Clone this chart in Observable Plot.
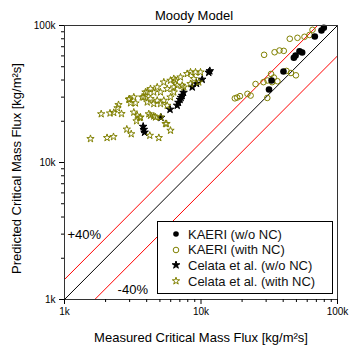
<!DOCTYPE html>
<html><head><meta charset="utf-8">
<script src="https://cdn.jsdelivr.net/npm/d3@7"></script>
<script src="https://cdn.jsdelivr.net/npm/@observablehq/plot@0.6"></script>
<style>
body{margin:0;background:#fff;font-family:"Liberation Sans",Arial,sans-serif;}
#wrap{position:relative;width:350px;height:352px;}
#legend{position:absolute;left:157px;top:221px;width:174px;height:71px;border:1px solid #000;background:#fff;font-size:13px;color:#111;}
.row{position:absolute;left:0;height:16px;display:flex;align-items:center;white-space:nowrap;}
.row svg{margin-left:12px;margin-right:6px;}
</style></head><body><div id="wrap"></div>
<script>
// Data (measured, predicted) in kg/m2s
const kaeriWo = [[79400,96200],[76300,91900],[68200,83200],[52700,64900],[55100,63500],[49300,60400],[47900,58100],[40200,46200],[32900,39700],[31500,34100]];
const kaeriWith = [[44700,80000],[50900,81300],[57300,82700],[62400,85300],[65600,93000],[29000,61100],[34600,63800],[37600,65700],[40400,65300],[42300,46600],[45600,45000],[49600,43300],[32600,44300],[34200,41700],[30700,39700],[36300,39200],[28700,38600],[25100,37400],[21900,31700],[23100,30800],[19300,30500],[18400,29800],[17700,29400],[30600,29600],[33200,38600]];
const celataWo = [[3770,18300],[3860,16600],[3810,17400],[5090,21300],[5930,24400],[6690,26100],[6840,27400],[7020,28800],[7150,29800],[7280,30800],[7450,32400],[8620,35500],[9270,37700],[10200,40400],[11600,46600],[11400,45400]];
const celataWith = [[1550,14900],[2050,15150],[2285,15400],[1857,22600],[2155,22900],[2296,23100],[2616,22680],[2487,26370],[2445,25000],[2860,17470],[3081,16150],[3219,23240],[3410,22030],[3370,20090],[3562,21190],[2993,29080],[3045,27180],[3219,29980],[3708,29980],[3919,32600],[4146,22600],[4510,21780],[4217,15740],[4909,15150],[5590,19170],[5978,17130],[5050,21410],[3604,21410],[4642,21410],[9916,45620],[9114,45620],[8377,45620],[7925,44420],[7075,41950],[6320,40830],[5978,39680],[5339,38550],[4777,35450],[4266,34510],[4036,32600],[4510,32600],[5050,32600],[6320,35450],[7280,36480],[8377,37530],[9640,38550],[5653,34510],[3810,29980],[4266,29170],[4777,28360],[5339,28360],[5978,29980],[6320,32600],[4036,27550],[4510,26820],[5050,26820],[5653,26060],[4266,22030],[5495,19170],[2958,28840],[3313,27100],[6692,36480],[7480,35450],[6505,39680],[8855,40830]];

const seriesNames = ["KAERI (w/o NC)","KAERI (with NC)","Celata et al. (w/o NC)","Celata et al. (with NC)"];
const majorTicks = [1000,10000,100000];
const minorTicks = [2000,3000,4000,5000,6000,7000,8000,9000,20000,30000,40000,50000,60000,70000,80000,90000];
const ratioLines = [1, 1.4, 0.6];
const ratioColors = ["#000","#ff0000","#ff0000"];
const ratioLabels = [{x:1050,y:2980,text:"+40%"},{x:2450,y:1180,text:"-40%"}];
const titleText = "Moody Model";
const xTitle = "Measured Critical Mass Flux [kg/m²s]";
const yTitle = "Predicted Critical Mass Flux [kg/m²s]";

const olive = "#808000";
const domain = [1000,100000];
const lineData = ratioLines.flatMap((k,i)=>domain.map(x=>({x, y:k*x, k:String(k), c:ratioColors[i]})));
const fmt = d => d/1000 + "k";
const X = d => d[0], Y = d => d[1];

const chart = Plot.plot({
  width:350, height:352, marginLeft:64, marginRight:13, marginTop:25, marginBottom:53,
  style:{fontFamily:"Liberation Sans, Arial, sans-serif", fontSize:"10px", background:"#fff", color:"#000", overflow:"visible"},
  x:{type:"log", domain},
  y:{type:"log", domain},
  marks:[
    Plot.line(lineData,{x:"x", y:"y", z:"k", stroke:"c", strokeWidth:1, clip:true}),
    Plot.dot(kaeriWith,{x:X, y:Y, symbol:"circle", r:2.8, fill:"none", stroke:olive, strokeWidth:1}),
    Plot.dot(kaeriWo,{x:X, y:Y, symbol:"circle", r:3.3, fill:"#000", stroke:"none"}),
    Plot.dot(celataWo,{x:X, y:Y, symbol:"star", r:2.4, fill:"#000", stroke:"#000", strokeWidth:1}),
    Plot.dot(celataWith,{x:X, y:Y, symbol:"star", r:2.3, fill:"none", stroke:olive, strokeWidth:1}),
    Plot.frame({stroke:"#333"}),
    Plot.axisX(majorTicks,{tickSize:5, tickPadding:3, tickFormat:fmt, label:null}),
    Plot.axisX(minorTicks,{tickSize:3, tickFormat:()=>"", label:null}),
    Plot.axisY(majorTicks,{tickSize:5, tickPadding:4, tickFormat:fmt, label:null}),
    Plot.axisY(minorTicks,{tickSize:3, tickFormat:()=>"", label:null}),
    Plot.text(ratioLabels,{x:"x", y:"y", text:"text", textAnchor:"start", fontSize:13}),
    Plot.text([titleText],{text:d=>d, frameAnchor:"top", lineAnchor:"middle", textAnchor:"middle", dy:-10, dx:-7, fontSize:13}),
    Plot.text([xTitle],{text:d=>d, frameAnchor:"bottom", lineAnchor:"middle", textAnchor:"middle", dy:38, fontSize:13}),
    Plot.text([yTitle],{text:d=>d, frameAnchor:"left", lineAnchor:"middle", textAnchor:"middle", dx:-48, dy:6, rotate:-90, fontSize:13})
  ]
});
const wrap = document.getElementById("wrap");
wrap.appendChild(chart);

// legend
const legendSymbols = [
  {sym:d3.symbolCircle, r:2.8, fill:"#000", stroke:"none"},
  {sym:d3.symbolCircle, r:2.8, fill:"none", stroke:olive},
  {sym:d3.symbolStar, r:2.4, fill:"#000", stroke:"#000"},
  {sym:d3.symbolStar, r:2.3, fill:"none", stroke:olive}
];
const lg = document.createElement("div");
lg.id = "legend";
seriesNames.forEach((name,i)=>{
  const row = document.createElement("div");
  row.className = "row";
  row.style.top = (4 + i*15.7) + "px";
  const s = legendSymbols[i];
  const path = d3.symbol(s.sym, Math.PI*s.r*s.r)();
  row.innerHTML = `<svg width="12" height="12" viewBox="-6 -6 12 12"><path d="${path}" fill="${s.fill}" stroke="${s.stroke}" stroke-width="1"/></svg><span>${name}</span>`;
  lg.appendChild(row);
});
wrap.appendChild(lg);
</script></body></html>
